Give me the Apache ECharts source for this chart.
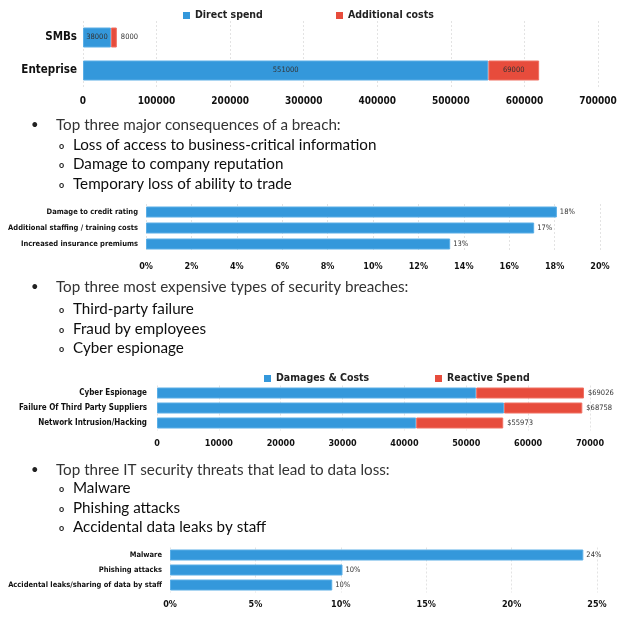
<!DOCTYPE html>
<html><head><meta charset="utf-8">
<script src="https://cdn.jsdelivr.net/npm/echarts@6/dist/echarts.min.js"></script>
<style>html,body{margin:0;padding:0;background:#fff}#c{width:620px;height:632px}</style>
</head><body><div id="c"></div><script>
// ---- data ----
const costCategories = ['SMBs', 'Enteprise'];
const directSpend = [38000, 551000];
const additionalCosts = [8000, 69000];

const consequenceCategories = ['Damage to credit rating', 'Additional staffing / training costs', 'Increased insurance premiums'];
const consequenceValues = [18.1, 17.1, 13.4];

const breachCategories = ['Cyber Espionage', 'Failure Of Third Party Suppliers', 'Network Intrusion/Hacking'];
const damagesCosts = [51600, 56100, 41900];
const reactiveSpend = [17426, 12658, 14073];
const breachTotals = [69026, 68758, 55973];

const threatCategories = ['Malware', 'Phishing attacks', 'Accidental leaks/sharing of data by staff'];
const threatValues = [24.2, 10.1, 9.5];

const bulletHeader1 = 'Top three major consequences of a breach:';
const bulletItems1 = ['Loss of access to business-critical information', 'Damage to company reputation', 'Temporary loss of ability to trade'];
const bulletHeader2 = 'Top three most expensive types of security breaches:';
const bulletItems2 = ['Third-party failure', 'Fraud by employees', 'Cyber espionage'];
const bulletHeader3 = 'Top three IT security threats that lead to data loss:';
const bulletItems3 = ['Malware', 'Phishing attacks', 'Accidental data leaks by staff'];

// ---- styles ----
const NARROW = '"Liberation Sans Narrow","DejaVu Sans Condensed",sans-serif';
const BODY = 'Lato,"Open Sans",sans-serif';
const BLUE = '#3498db', BLUE_B = '#5aaee6';
const RED = '#e74c3c', RED_B = '#ef7063';

const chart = echarts.init(document.getElementById('c'), null, {renderer: 'canvas'});

function valAxis(gi, max, interval, fmt, fs, margin) {
  return {
    type: 'value', gridIndex: gi, min: 0, max: max, interval: interval,
    axisLine: {show: false}, axisTick: {show: false},
    axisLabel: {fontFamily: NARROW, fontWeight: 'bold', fontSize: fs, color: '#111', margin: margin, formatter: fmt},
    splitLine: {show: true, lineStyle: {color: '#e3e3e3', type: [2, 2], width: 1}}
  };
}
function catAxis(gi, data, fs, margin) {
  return {
    type: 'category', gridIndex: gi, data: data, inverse: true,
    axisLine: {show: false}, axisTick: {show: false},
    axisLabel: {fontFamily: NARROW, fontWeight: 'bold', fontSize: fs, color: '#111', margin: margin}
  };
}
const lblStyle = {fontFamily: NARROW, fontSize: 7.5, color: '#333'};

function bulletBlock(header, items, yHeader, yItems) {
  const els = [];
  els.push({type: 'text', x: 31, y: yHeader, style: {text: '•', fontSize: 13, fontFamily: BODY, fill: '#222', verticalAlign: 'middle'}});
  els.push({type: 'text', x: 56, y: yHeader, style: {text: header, fontSize: 15.2, fontFamily: BODY, fill: '#333', verticalAlign: 'middle'}});
  items.forEach((t, i) => {
    els.push({type: 'text', x: 59, y: yItems[i] + 1, style: {text: 'o', fontSize: 9, fontFamily: BODY, fontWeight: 'bold', fill: '#222', verticalAlign: 'middle'}});
    els.push({type: 'text', x: 73, y: yItems[i], style: {text: t, fontSize: 15.2, fontFamily: BODY, fill: '#0d0d0d', verticalAlign: 'middle'}});
  });
  return els;
}

const legendBase = {
  icon: 'rect', itemWidth: 7, itemHeight: 7, itemGap: 4,
  itemStyle: {borderWidth: 0},
  textStyle: {fontFamily: NARROW, fontWeight: 'bold', fontSize: 10.5, color: '#222'}
};

const plain = v => String(v);

const option = {
  animation: false,
  legend: [
    Object.assign({}, legendBase, {data: ['Direct spend'], left: 178, top: 5}),
    Object.assign({}, legendBase, {data: ['Additional costs'], left: 331, top: 5}),
    Object.assign({}, legendBase, {data: ['Damages & Costs'], left: 259, top: 368}),
    Object.assign({}, legendBase, {data: ['Reactive Spend'], left: 430, top: 368})
  ],
  grid: [
    {left: 83, right: 22, top: 21, height: 66},
    {left: 146, right: 20, top: 204, height: 48},
    {left: 157, right: 30, top: 385.5, height: 45},
    {left: 170, right: 23, top: 547.5, height: 45}
  ],
  xAxis: [
    valAxis(0, 700000, 100000, plain, 10, 9),
    valAxis(1, 20, 2, v => v + '%', 9, 10),
    valAxis(2, 70000, 10000, plain, 9, 9),
    valAxis(3, 25, 5, v => v + '%', 9, 8)
  ],
  yAxis: [
    catAxis(0, costCategories, 11.5, 6),
    catAxis(1, consequenceCategories, 7.5, 8),
    catAxis(2, breachCategories, 8, 10),
    catAxis(3, threatCategories, 7.5, 8)
  ],
  series: [
    {
      name: 'Direct spend', type: 'bar', stack: 'c', xAxisIndex: 0, yAxisIndex: 0, barWidth: 20,
      itemStyle: {color: BLUE, borderColor: BLUE_B, borderWidth: 1},
      label: Object.assign({show: true, position: 'inside'}, lblStyle),
      data: directSpend
    },
    {
      name: 'Additional costs', type: 'bar', stack: 'c', xAxisIndex: 0, yAxisIndex: 0, barWidth: 20,
      itemStyle: {color: RED, borderColor: RED_B, borderWidth: 1},
      label: Object.assign({show: true, position: 'inside'}, lblStyle),
      data: additionalCosts.map((v, i) => i === 0 ? {value: v, label: {position: 'right', distance: 4}} : v)
    },
    {
      name: 'Consequences', type: 'bar', xAxisIndex: 1, yAxisIndex: 1, barWidth: 11,
      itemStyle: {color: BLUE, borderColor: BLUE_B, borderWidth: 1},
      label: Object.assign({show: true, position: 'right', distance: 3, formatter: p => Math.round(p.value) + '%'}, lblStyle),
      data: consequenceValues
    },
    {
      name: 'Damages & Costs', type: 'bar', stack: 'b', xAxisIndex: 2, yAxisIndex: 2, barWidth: 11,
      itemStyle: {color: BLUE, borderColor: BLUE_B, borderWidth: 1},
      data: damagesCosts
    },
    {
      name: 'Reactive Spend', type: 'bar', stack: 'b', xAxisIndex: 2, yAxisIndex: 2, barWidth: 11,
      itemStyle: {color: RED, borderColor: RED_B, borderWidth: 1},
      label: Object.assign({show: true, position: 'right', distance: 4, formatter: p => '$' + breachTotals[p.dataIndex]}, lblStyle),
      data: reactiveSpend
    },
    {
      name: 'Threats', type: 'bar', xAxisIndex: 3, yAxisIndex: 3, barWidth: 11,
      itemStyle: {color: BLUE, borderColor: BLUE_B, borderWidth: 1},
      label: Object.assign({show: true, position: 'right', distance: 3, formatter: p => Math.round(p.value) + '%'}, lblStyle),
      data: threatValues
    }
  ],
  graphic: [].concat(
    bulletBlock(bulletHeader1, bulletItems1, 125, [145, 164.5, 184]),
    bulletBlock(bulletHeader2, bulletItems2, 287, [309, 329, 348]),
    bulletBlock(bulletHeader3, bulletItems3, 470, [488, 508, 527])
  )
};
chart.setOption(option);
</script></body></html>
